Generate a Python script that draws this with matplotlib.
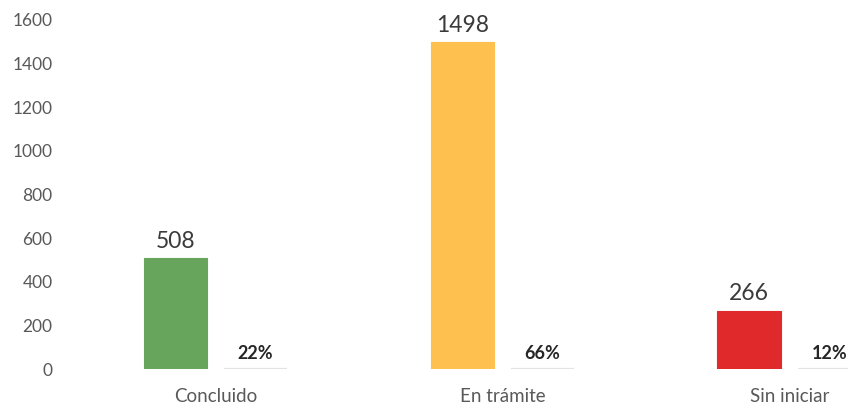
import matplotlib.pyplot as plt
import numpy as np

# Data
categories = ["Concluido", "En trámite", "Sin iniciar"]
counts = [508, 1498, 266]
shares = [0.22, 0.66, 0.12]
share_labels = ["22%", "66%", "12%"]
bar_colors = ["#67a55c", "#fec04f", "#e0292b"]

plt.rcParams['font.family'] = ['Lato', 'DejaVu Sans']

fig = plt.figure(figsize=(8.48, 4.09), dpi=100)
ax = fig.add_axes([72 / 848, 40 / 409, 1 - 72 / 848, 349 / 409])

x = np.arange(len(categories))
w = 0.22
off = 0.14

ax.bar(x - off, counts, w, color=bar_colors, edgecolor=bar_colors, linewidth=0.8)
ax.bar(x + off, shares, w, color="#e3e3e3", edgecolor="#e3e3e3", linewidth=1.6)

for xi, c in zip(x, counts):
    ax.text(xi - off, c + 30, str(c), ha="center", va="bottom",
            fontsize=16.5, color="#3a3a3a")
for xi, s in zip(x, share_labels):
    ax.text(xi + off, 30, s, ha="center", va="bottom",
            fontsize=13, fontweight="bold", color="#262626")

ax.set_xlim(-0.5, 2.205)
ax.set_ylim(0, 1600)
ax.set_yticks(range(0, 1601, 200))
ax.set_xticks(x)
ax.set_xticklabels(categories)
ax.tick_params(axis="both", length=0, labelcolor="#595959")
ax.tick_params(axis="y", labelsize=12.5, pad=14)
ax.tick_params(axis="x", labelsize=13.5, pad=14)
for s in ax.spines.values():
    s.set_visible(False)

plt.savefig("out.png", dpi=100)
